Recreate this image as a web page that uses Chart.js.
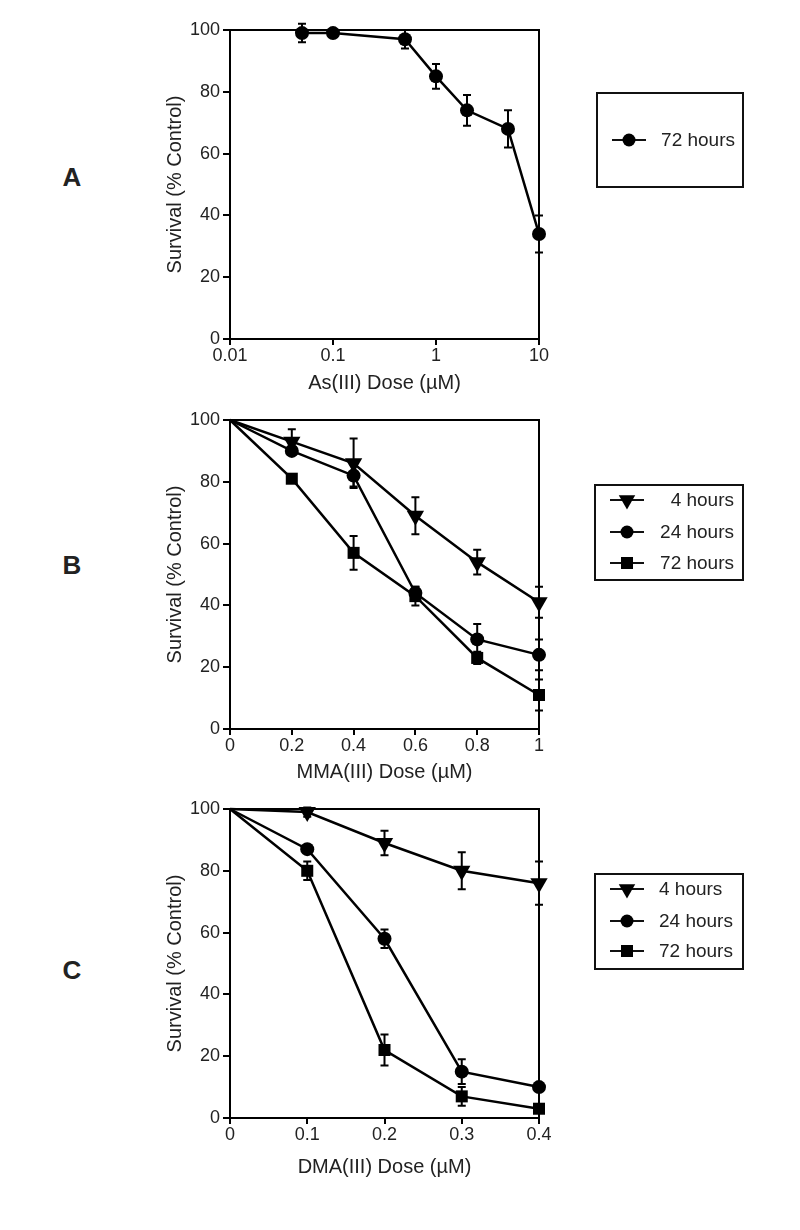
<!DOCTYPE html>
<html lang="en">
<head>
<meta charset="UTF-8"/>
<title>Arsenical survival curves</title>
<script src="https://cdn.jsdelivr.net/npm/chart.js"></script>
<style>
  body { margin: 0; background: #fff; width: 800px; height: 1230px; position: relative; font-family: 'Liberation Sans', Arial, sans-serif; }
  canvas { position: absolute; left: 0; }
  .panel { position: absolute; font-weight: bold; font-size: 26px; color: #222; transform: translate(-50%, -50%); }
</style>
</head>
<body>
<div class="panel" style="left:72px;top:177px">A</div>
<div class="panel" style="left:72px;top:565px">B</div>
<div class="panel" style="left:72px;top:970px">C</div>

<canvas id="chartA" width="800" height="400" style="top:0"></canvas>
<canvas id="chartB" width="800" height="390" style="top:400px"></canvas>
<canvas id="chartC" width="800" height="400" style="top:790px"></canvas>

<script>
// --- data ---
const yTicks = [0, 20, 40, 60, 80, 100];

// A: As(III), 72 h
const dosesA = [0.05, 0.1, 0.5, 1, 2, 5, 10];
const xTicksA = [0.01, 0.1, 1, 10];
const surv72A = [99, 99, 97, 85, 74, 68, 34];
const err72A = [3, 0, 3, 4, 5, 6, 6];

// B: MMA(III)
const dosesB = [0, 0.2, 0.4, 0.6, 0.8, 1];
const xTicksB = [0, 0.2, 0.4, 0.6, 0.8, 1];
const surv4B = [100, 93, 86, 69, 54, 41];
const err4B = [0, 4, 8, 6, 4, 5];
const surv24B = [100, 90, 82, 44, 29, 24];
const err24B = [0, 1, 3.5, 2, 5, 5];
const surv72B = [100, 81, 57, 43, 23, 11];
const err72B = [0, 1, 5.5, 3, 2, 5];

// C: DMA(III)
const dosesC = [0, 0.1, 0.2, 0.3, 0.4];
const xTicksC = [0, 0.1, 0.2, 0.3, 0.4];
const surv4C = [100, 99, 89, 80, 76];
const err4C = [0, 1.5, 4, 6, 7];
const surv24C = [100, 87, 58, 15, 10];
const err24C = [0, 1, 3, 4, 1];
const surv72C = [100, 80, 22, 7, 3];
const err72C = [0, 3, 5, 3, 0];

Chart.defaults.font.family = "'Liberation Sans', Arial, Helvetica, sans-serif";
Chart.defaults.color = '#222';

const markers = {
    '4 hours': { pointStyle: 'triangle', pointRadius: 10, pointRotation: 180 },
    '24 hours': { pointStyle: 'circle', pointRadius: 7, pointRotation: 0 },
    '72 hours': { pointStyle: 'rect', pointRadius: 8.5, pointRotation: 0 }
};

function series(label, doses, vals, errs, style) {
    const m = style || markers[label];
    return {
        label: label,
        data: doses.map((d, i) => ({ x: d, y: vals[i] })),
        errors: errs,
        borderColor: '#000',
        backgroundColor: '#000',
        borderWidth: 2.5,
        pointBorderWidth: 0,
        pointStyle: m.pointStyle,
        // the untreated control point (dose 0) carries no marker
        pointRadius: c => (c.raw && c.raw.x === 0 ? 0 : m.pointRadius),
        pointRotation: m.pointRotation,
        tension: 0,
        clip: false
    };
}

// error bars, frame and legend box
const errorBars = {
    id: 'errorBars',
    afterDatasetsDraw(chart) {
        const ctx = chart.ctx, ys = chart.scales.y;
        ctx.save();
        ctx.strokeStyle = '#000';
        ctx.lineWidth = 2;
        chart.data.datasets.forEach((ds, di) => {
            const meta = chart.getDatasetMeta(di);
            ds.data.forEach((p, i) => {
                const e = ds.errors[i];
                if (!e) return;
                const x = meta.data[i].x;
                const top = ys.getPixelForValue(p.y + e);
                const bot = ys.getPixelForValue(p.y - e);
                ctx.beginPath();
                ctx.moveTo(x, top); ctx.lineTo(x, bot);
                ctx.moveTo(x - 4, top); ctx.lineTo(x + 4, top);
                ctx.moveTo(x - 4, bot); ctx.lineTo(x + 4, bot);
                ctx.stroke();
            });
        });
        ctx.restore();
    }
};

const frame = {
    id: 'frame',
    beforeDatasetsDraw(chart) {
        const { left, top, right, bottom } = chart.chartArea;
        const ctx = chart.ctx;
        ctx.save();
        ctx.strokeStyle = '#000';
        ctx.lineWidth = 2;
        ctx.strokeRect(left, top, right - left, bottom - top);
        ctx.restore();
    }
};

function drawMarker(ctx, style, x, y) {
    ctx.beginPath();
    if (style === 'circle') {
        ctx.arc(x, y, 6.5, 0, Math.PI * 2);
    } else if (style === 'rect') {
        ctx.rect(x - 6, y - 6, 12, 12);
    } else {
        const r = 9.5;
        ctx.moveTo(x, y + r);
        ctx.lineTo(x - r * 0.866, y - r / 2);
        ctx.lineTo(x + r * 0.866, y - r / 2);
        ctx.closePath();
    }
    ctx.fill();
}

const boxLegend = {
    id: 'boxLegend',
    afterDraw(chart, args, opts) {
        const ctx = chart.ctx;
        ctx.save();
        ctx.strokeStyle = '#111';
        ctx.lineWidth = 2;
        ctx.strokeRect(opts.box[0], opts.box[1], opts.box[2], opts.box[3]);
        ctx.font = "19px 'Liberation Sans', Arial, sans-serif";
        ctx.textBaseline = 'middle';
        chart.data.datasets.forEach((ds, i) => {
            const y = opts.rows[i];
            ctx.beginPath();
            ctx.moveTo(opts.lineX, y); ctx.lineTo(opts.lineX + 34, y);
            ctx.stroke();
            ctx.fillStyle = '#000';
            drawMarker(ctx, ds.pointStyle, opts.lineX + 17, y);
            ctx.fillStyle = '#222';
            ctx.textAlign = opts.align;
            ctx.fillText(ds.label, opts.textX, y + 1);
        });
        ctx.restore();
    }
};

function makeChart(id, xScale, datasets, pad, xHeight, legend) {
    new Chart(document.getElementById(id), {
        type: 'line',
        data: { datasets: datasets },
        options: {
            responsive: false,
            animation: false,
            layout: { padding: pad },
            plugins: { legend: { display: false }, tooltip: { enabled: false }, boxLegend: legend },
            scales: {
                x: Object.assign({
                    position: 'bottom',
                    grid: { drawOnChartArea: false, color: '#000', lineWidth: 2, tickLength: 6 },
                    border: { color: '#000', width: 2 },
                    afterFit: s => { s.height = xHeight; }
                }, xScale),
                y: {
                    min: 0, max: 100,
                    afterBuildTicks: s => { s.ticks = yTicks.map(v => ({ value: v })); },
                    ticks: { font: { size: 18 }, padding: 3 },
                    grid: { drawOnChartArea: false, color: '#000', lineWidth: 2, tickLength: 7 },
                    border: { color: '#000', width: 2 },
                    title: { display: true, text: 'Survival (% Control)', font: { size: 20 }, padding: { top: 4, bottom: 4 } },
                    afterFit: s => { s.width = 71; }
                }
            }
        },
        plugins: [frame, errorBars, boxLegend]
    });
}

function linearX(max, ticks, title) {
    return {
        type: 'linear', min: 0, max: max,
        afterBuildTicks: s => { s.ticks = ticks.map(v => ({ value: v })); },
        ticks: { font: { size: 18 }, padding: 0, maxRotation: 0, callback: v => String(v) },
        title: { display: true, text: title, font: { size: 20 }, padding: { top: 4, bottom: 4 } }
    };
}

makeChart('chartA', {
    type: 'logarithmic', min: 0.01, max: 10,
    afterBuildTicks: s => { s.ticks = xTicksA.map(v => ({ value: v })); },
    ticks: { font: { size: 18 }, padding: 0, maxRotation: 0, callback: v => String(v) },
    title: { display: true, text: 'As(III) Dose (\u00B5M)', font: { size: 20 }, padding: { top: 4, bottom: 4 } }
}, [series('72 hours', dosesA, surv72A, err72A, markers['24 hours'])],
{ top: 30, left: 159, right: 261, bottom: 1 }, 60,
{ box: [597, 93, 146, 94], rows: [140], lineX: 612, textX: 735, align: 'right' });

makeChart('chartB', linearX(1, xTicksB, 'MMA(III) Dose (\u00B5M)'), [
    series('4 hours', dosesB, surv4B, err4B),
    series('24 hours', dosesB, surv24B, err24B),
    series('72 hours', dosesB, surv72B, err72B)
], { top: 20, left: 159, right: 261, bottom: 2 }, 59,
{ box: [595, 85, 148, 95], rows: [100, 132, 163], lineX: 610, textX: 734, align: 'right' });

makeChart('chartC', linearX(0.4, xTicksC, 'DMA(III) Dose (\u00B5M)'), [
    series('4 hours', dosesC, surv4C, err4C),
    series('24 hours', dosesC, surv24C, err24C),
    series('72 hours', dosesC, surv72C, err72C)
], { top: 19, left: 159, right: 261, bottom: 7 }, 65,
{ box: [595, 84, 148, 95], rows: [99, 131, 161], lineX: 610, textX: 659, align: 'left' });
</script>
</body>
</html>
